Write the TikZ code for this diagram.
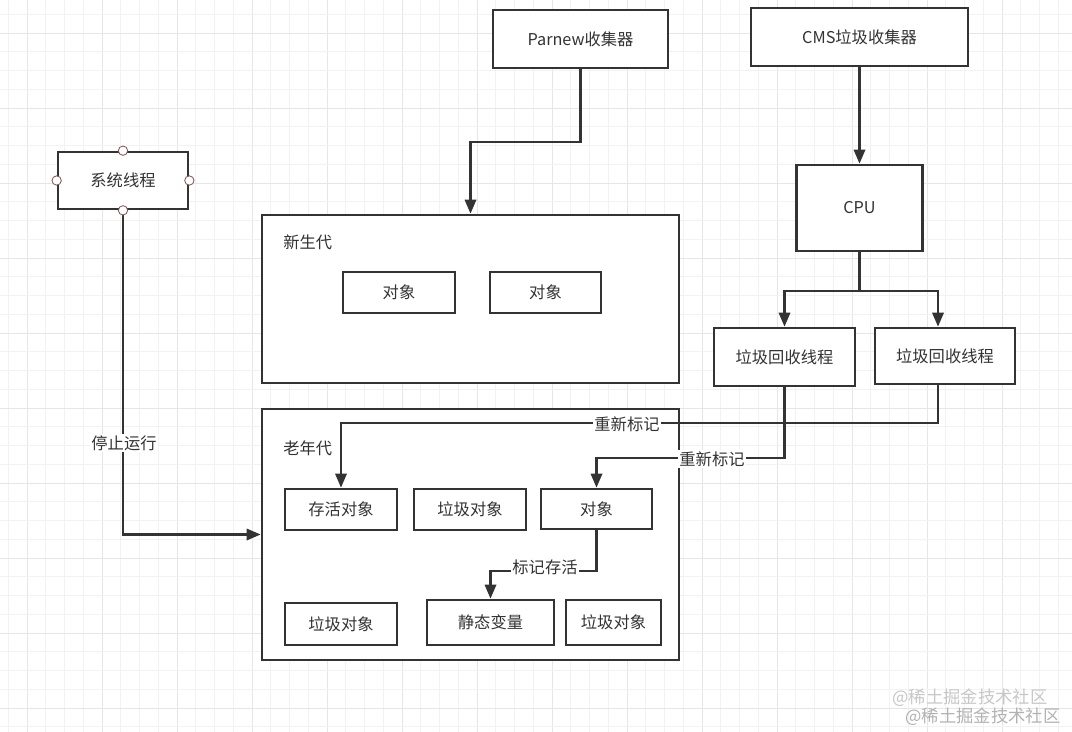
\documentclass[tikz,border=0pt]{standalone}
\usepackage{fontspec}
\setmainfont{Noto Sans CJK SC}
\usetikzlibrary{arrows.meta}
\definecolor{ink}{HTML}{333333}
\definecolor{gridminor}{HTML}{F2F2F2}
\definecolor{gridmajor}{HTML}{E6E6E6}
\definecolor{pin}{HTML}{7F5050}
\begin{document}
\begin{tikzpicture}[x=0.75pt,y=-0.75pt,
  box/.style={draw=ink, line width=2pt, fill=white, text=ink, font=\fontsize{12.2pt}{14pt}\selectfont, inner sep=0pt},
  conn/.style={draw=ink, line width=1.7pt},
  arr/.style={conn, -{Triangle[length=10.5pt,width=8.5pt]}},
  lab/.style={fill=white, text=ink, font=\fontsize{12.2pt}{14pt}\selectfont, inner sep=1pt},
  title/.style={text=ink, font=\fontsize{12.2pt}{14pt}\selectfont, inner sep=0pt},
  pinc/.style={circle, draw=pin, fill=white, line width=0.6pt, minimum size=7pt, inner sep=0pt},
  wm/.style={font=\fontsize{13pt}{15pt}\selectfont, inner sep=0pt, anchor=west}]
\useasboundingbox (0,0) rectangle (1072,732);
\fill[white] (0,0) rectangle (1072,732);
% grid
\foreach \i in {0,...,57} {
  \pgfmathsetmacro{\xx}{8.25+18.75*\i}
  \pgfmathtruncatemacro{\mm}{mod(\i,4)}
  \ifnum\mm=1 \draw[gridmajor, line width=0.6pt] (\xx,0) -- (\xx,732);
  \else \draw[gridminor, line width=0.5pt] (\xx,0) -- (\xx,732); \fi
}
\foreach \i in {0,...,39} {
  \pgfmathsetmacro{\yy}{14.25+18.75*\i}
  \pgfmathtruncatemacro{\mm}{mod(\i,4)}
  \ifnum\mm=1 \draw[gridmajor, line width=0.6pt] (0,\yy) -- (1072,\yy);
  \else \draw[gridminor, line width=0.5pt] (0,\yy) -- (1072,\yy); \fi
}

% top boxes
\node[box, minimum width=131.25pt, minimum height=43.5pt] (parnew) at (580.5,39) {Parnew收集器};
\node[box, minimum width=162.75pt, minimum height=43.5pt] (cms) at (859.5,37) {CMS垃圾收集器};
\node[box, minimum width=94.5pt, minimum height=64.5pt] (cpu) at (859.5,208) {CPU};
\node[box, minimum width=105.75pt, minimum height=43.5pt] (gc1) at (784.5,357) {垃圾回收线程};
\node[box, minimum width=105pt, minimum height=42pt] (gc2) at (945,356) {垃圾回收线程};
\node[box, minimum width=97.5pt, minimum height=42.75pt] (sys) at (123,180.5) {系统线程};

% young generation
\node[box, minimum width=312.75pt, minimum height=126pt] (young) at (470.5,299) {};
\node[title, anchor=west] (youngt) at (283,242) {新生代};
\node[box, minimum width=84pt, minimum height=30.75pt] (yo1) at (399,292.5) {对象};
\node[box, minimum width=83.25pt, minimum height=30.75pt] (yo2) at (545.5,292.5) {对象};

% old generation
\node[box, minimum width=312.75pt, minimum height=188.25pt] (old) at (470.5,534.5) {};
\node[title, anchor=west] (oldt) at (283,448) {老年代};
\node[box, minimum width=84pt, minimum height=30.75pt] (alive) at (341,509.5) {存活对象};
\node[box, minimum width=84pt, minimum height=30.75pt] (g1) at (470,509.5) {垃圾对象};
\node[box, minimum width=83.25pt, minimum height=30pt] (obj) at (596.5,509) {对象};
\node[box, minimum width=84pt, minimum height=31.5pt] (g2) at (341,624) {垃圾对象};
\node[box, minimum width=95.25pt, minimum height=33.75pt] (static) at (490.5,622.5) {静态变量};
\node[box, minimum width=71.25pt, minimum height=33.75pt] (g3) at (613.5,622.5) {垃圾对象};

% connectors
\draw[arr] (parnew.south) -- ++(0,73) -| (young.north);
\draw[arr] (cms.south) -- (cms.south |- cpu.north);
\draw[arr] (cpu.south) -- ++(0,39) -| (gc1.north);
\draw[arr] (cpu.south) -- ++(0,39) -| ([xshift=-5.25pt]gc2.north);
\draw[arr] ([xshift=-5.25pt]gc2.south) -- ++(0,38) -| (alive.north);
\node[lab] (l1) at (627,424) {重新标记};
\draw[arr] (gc1.south) -- ++(0,71) -| (obj.north);
\node[lab] (l2) at (712,459) {重新标记};
\draw[arr] (obj.south) -- ++(0,41) -| (static.north);
\node[lab] (l3) at (545,567) {标记存活};
\draw[arr] (sys.south) |- (old.west);
\node[lab] (l4) at (124,443) {停止运行};

% pins on system thread
\node[pinc] (pt) at (sys.north) {};
\node[pinc] (pb) at (sys.south) {};
\node[pinc] (pl) at (sys.west) {};
\node[pinc] (pr) at (sys.east) {};

% watermark
\node[wm, text=black!22] (wm1) at (892,698) {@稀土掘金技术社区};
\node[wm, text=black!30] (wm2) at (905,717) {@稀土掘金技术社区};
\end{tikzpicture}
\end{document}
